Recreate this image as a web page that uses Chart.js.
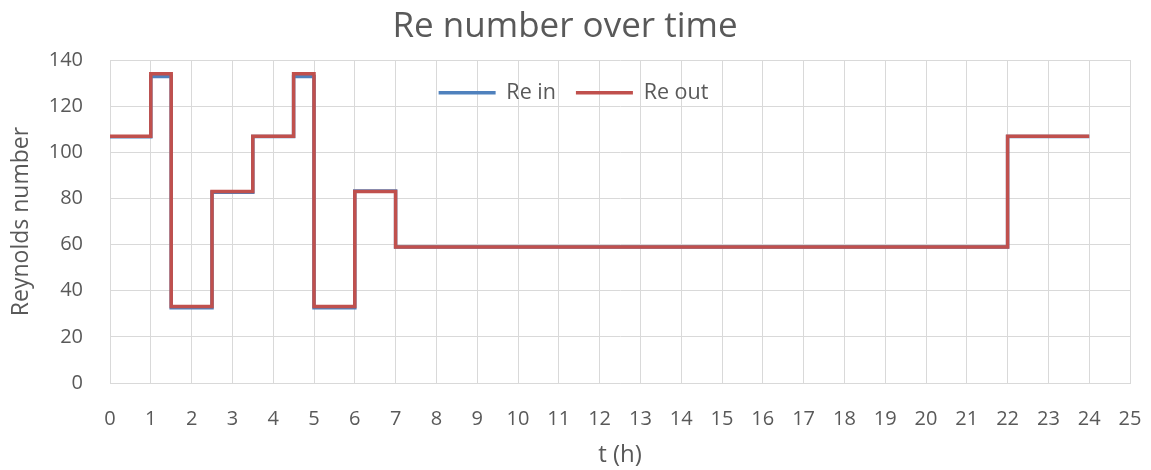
<!DOCTYPE html>
<html>
<head>
<meta charset="utf-8">
<title>Re number over time</title>
<script src="https://cdn.jsdelivr.net/npm/chart.js@4.4.1/dist/chart.umd.min.js"></script>
<style>
    body { margin: 0; background: #fff; }
    #wrap { width: 1151px; height: 470px; }
</style>
</head>
<body>
<div id="wrap"><canvas id="re-chart" width="1151" height="470"></canvas></div>
<script>
// step start times (h) and the value held from that time on
const times = [0, 1, 1.5, 2.5, 3.5, 4.5, 5, 6, 7, 22, 24];
const reIn  = [106.7, 132.8, 32.6, 82.7, 106.8, 132.8, 32.6, 83.2, 59, 106.8, 106.8];
const reOut = [107, 134, 33.2, 83, 107, 134, 33.2, 83, 59, 107, 107];

const xTicks = { min: 0, max: 25, step: 1 };
const yTicks = { min: 0, max: 140, step: 20 };

const textColor = '#595959';
const gridColor = '#D9D9D9';
const fontFamily = '"Open Sans", Lato, sans-serif';

function toPoints(values) {
    return times.map((t, i) => ({ x: t, y: values[i] }));
}

// moves the legend from above the plot into its upper part
const legendInPlot = {
    id: 'legendInPlot',
    afterLayout(chart) {
        const lg = chart.legend;
        const area = chart.chartArea;
        lg.left = area.left - 93;
        lg.right = area.right;
        lg.width = lg.right - lg.left;
        lg.top = area.top + 2;
        lg.bottom = lg.top + 60;
        lg.height = 60;
    }
};

const ctx = document.getElementById('re-chart').getContext('2d');
new Chart(ctx, {
    type: 'line',
    data: {
        datasets: [
            {
                label: 'Re in',
                data: toPoints(reIn),
                borderColor: '#4F81BD',
                backgroundColor: '#4F81BD',
                borderWidth: 3.5,
                stepped: true,
                pointRadius: 0,
                fill: false,
                order: 2
            },
            {
                label: 'Re out',
                data: toPoints(reOut),
                borderColor: '#C0504D',
                backgroundColor: '#C0504D',
                borderWidth: 3.5,
                stepped: true,
                pointRadius: 0,
                fill: false,
                order: 1
            }
        ]
    },
    options: {
        responsive: false,
        animation: false,
        layout: { padding: { top: 0, left: 0, right: 21, bottom: 0 } },
        plugins: {
            title: {
                display: true,
                text: 'Re number over time',
                color: textColor,
                font: { family: fontFamily, size: 35, weight: 'normal' },
                padding: { top: 6, bottom: 11 }
            },
            legend: {
                position: 'top',
                maxHeight: 1,
                labels: {
                    color: textColor,
                    font: { family: fontFamily, size: 21.5 },
                    usePointStyle: true,
                    pointStyle: 'line',
                    pointStyleWidth: 57,
                    padding: 20,
                    sort: (a, b) => a.datasetIndex - b.datasetIndex
                }
            },
            tooltip: { enabled: false }
        },
        scales: {
            x: {
                type: 'linear',
                min: xTicks.min,
                max: xTicks.max,
                ticks: {
                    stepSize: xTicks.step,
                    color: textColor,
                    font: { family: fontFamily, size: 20 },
                    padding: 0,
                    maxRotation: 0
                },
                // invisible tick marks push the labels down without widening the right margin
                grid: { color: gridColor, drawTicks: true, tickLength: 24, tickColor: 'rgba(0,0,0,0)' },
                border: { color: gridColor },
                title: {
                    display: true,
                    text: 't (h)',
                    color: textColor,
                    font: { family: fontFamily, size: 24 },
                    padding: { top: 0, bottom: 0 }
                },
                afterFit(scale) { scale.height = 87; }
            },
            y: {
                min: yTicks.min,
                max: yTicks.max,
                ticks: {
                    stepSize: yTicks.step,
                    color: textColor,
                    font: { family: fontFamily, size: 20 },
                    padding: 27
                },
                grid: { color: gridColor, drawTicks: false },
                border: { color: gridColor },
                title: {
                    display: true,
                    text: 'Reynolds number',
                    color: textColor,
                    font: { family: fontFamily, size: 23 },
                    padding: { top: 8, bottom: 0 }
                },
                afterFit(scale) { scale.width = 110; }
            }
        }
    },
    plugins: [legendInPlot]
});
</script>
</body>
</html>
